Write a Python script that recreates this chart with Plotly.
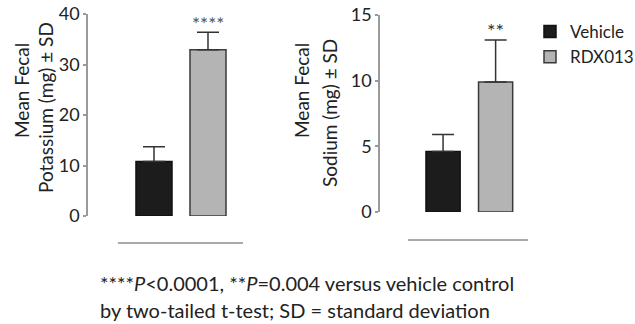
import plotly.graph_objects as go

# ---- data ----
groups = ["Vehicle", "RDX013"]
potassium_mean = [10.8, 32.9]
potassium_sd = [2.9, 3.5]
sodium_mean = [4.6, 9.9]
sodium_sd = [1.3, 3.2]
potassium_sig = ["", "****"]
sodium_sig = ["", "**"]
potassium_ticks = [0, 10, 20, 30, 40]
sodium_ticks = [0, 5, 10, 15]
footnote_1 = "****<i>P</i><0.0001, **<i>P</i>=0.004 versus vehicle control"
footnote_2 = "by two-tailed t-test; SD = standard deviation"

W, H = 635, 324

def px(x):
    return x / W

def py(y):
    return 1 - y / H

FONT = "Lato"
TXT = "#222222"
fills = ["#1c1c1c", "#b4b4b4"]
lines = ["#111111", "#3a3a3a"]
xpos = [0, 1]

fig = go.Figure()
for i, g in enumerate(groups):
    fig.add_trace(go.Bar(
        x=[xpos[i]], y=[potassium_mean[i]], name=g, legendgroup=g, showlegend=True,
        width=0.667, marker=dict(color=fills[i], line=dict(color=lines[i], width=1.5)),
        error_y=dict(type="data", array=[potassium_sd[i]], arrayminus=[0], symmetric=False,
                     color="#333333", thickness=1.5, width=11),
        xaxis="x", yaxis="y"))
    fig.add_trace(go.Bar(
        x=[xpos[i]], y=[sodium_mean[i]], name=g, legendgroup=g, showlegend=False,
        width=0.65, marker=dict(color=fills[i], line=dict(color=lines[i], width=1.5)),
        error_y=dict(type="data", array=[sodium_sd[i]], arrayminus=[0], symmetric=False,
                     color="#333333", thickness=1.5, width=11),
        xaxis="x2", yaxis="y2"))

ann = []
for i in range(2):
    if potassium_sig[i]:
        ann.append(dict(x=xpos[i], y=potassium_mean[i] + potassium_sd[i], xref="x", yref="y",
                        text=potassium_sig[i], showarrow=False, yanchor="bottom", yshift=-5,
                        font=dict(family=FONT, size=19, color="#555")))
    if sodium_sig[i]:
        ann.append(dict(x=xpos[i], y=sodium_mean[i] + sodium_sd[i], xref="x2", yref="y2",
                        text=sodium_sig[i], showarrow=False, yanchor="bottom", yshift=-4,
                        font=dict(family=FONT, size=20, color="#333")))

def vtext(x, y, t):
    return dict(x=px(x), y=py(y), xref="paper", yref="paper", text=t, textangle=-90,
                showarrow=False, xanchor="center", yanchor="middle",
                font=dict(family=FONT, size=19, color=TXT))

ann += [
    vtext(21, 91, "Mean Fecal"),
    vtext(46, 108, "Potassium (mg) ± SD"),
    vtext(301, 91, "Mean Fecal"),
    vtext(329, 113, "Sodium (mg) ± SD"),
]
for y, t in [(283, footnote_1), (310, footnote_2)]:
    ann.append(dict(x=px(98), y=py(y), xref="paper", yref="paper", text=t,
                    showarrow=False, xanchor="left", yanchor="middle",
                    font=dict(family=FONT, size=20, color=TXT)))

shapes = [
    dict(type="line", xref="paper", yref="paper", x0=px(118), x1=px(243),
         y0=py(243), y1=py(243), line=dict(color="#555", width=1)),
    dict(type="line", xref="paper", yref="paper", x0=px(408), x1=px(528),
         y0=py(240), y1=py(240), line=dict(color="#555", width=1)),
]

yax = dict(showline=True, linecolor="#9a9a9a", linewidth=1.5, ticks="outside", ticklen=3,
           tickcolor="#9a9a9a", tickwidth=1.5, showgrid=False, zeroline=False,
           ticklabeloverflow="allow",
           tickfont=dict(family=FONT, size=18, color=TXT))

fig.update_layout(
    width=W, height=H, margin=dict(l=0, r=0, t=0, b=0, autoexpand=False),
    paper_bgcolor="white", plot_bgcolor="white", barmode="overlay",
    xaxis=dict(domain=[px(88), px(250)], range=[-1.222, 1.778], visible=False),
    yaxis=dict(domain=[py(216), py(14)], range=[0, 40], tickvals=potassium_ticks, **yax),
    xaxis2=dict(domain=[px(380), px(545)], range=[-1.2, 1.94], visible=False, anchor="y2"),
    yaxis2=dict(domain=[py(212), py(15)], range=[0, 15], tickvals=sodium_ticks,
                anchor="x2", **yax),
    legend=dict(x=px(530), y=py(14), xanchor="left", yanchor="top",
                font=dict(family=FONT, size=17, color=TXT), bgcolor="rgba(0,0,0,0)",
                itemwidth=30, tracegroupgap=0),
    annotations=ann, shapes=shapes,
)
fig.write_html("out.html", config={"displayModeBar": False},
               post_script="document.body.style.margin='0';")
